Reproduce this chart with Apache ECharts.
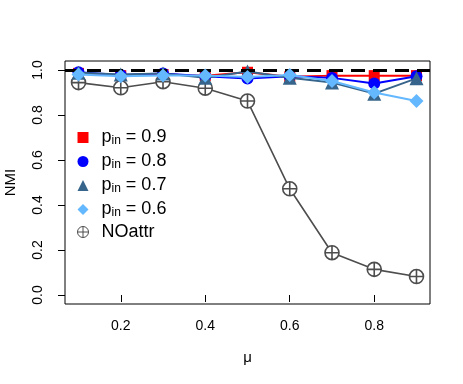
<!DOCTYPE html>
<html><head><meta charset="utf-8">
<script src="https://cdn.jsdelivr.net/npm/echarts@6/dist/echarts.min.js"></script>
<style>html,body{margin:0;padding:0;background:#fff}#c{width:463px;height:384px}</style>
</head><body><div id="c"></div>
<script>
const mu = [0.1,0.2,0.3,0.4,0.5,0.6,0.7,0.8,0.9];
const p09 = [0.985,0.975,0.980,0.975,0.990,0.970,0.975,0.975,0.975];
const p08 = [0.990,0.978,0.985,0.972,0.962,0.972,0.965,0.940,0.972];
const p07 = [0.988,0.980,0.985,0.966,0.993,0.966,0.944,0.895,0.963];
const p06 = [0.980,0.972,0.976,0.976,0.969,0.978,0.951,0.900,0.862];
const noattr = [0.944,0.921,0.948,0.919,0.862,0.472,0.188,0.114,0.082];
const xTicks = [0.2,0.4,0.6,0.8];
const yTicks = [0,0.2,0.4,0.6,0.8,1.0];
const legendLabels = {p09:'0.9',p08:'0.8',p07:'0.7',p06:'0.6'};

const FONT = 'Liberation Sans, Arial, sans-serif';
const plusCircle = 'path://M1,10 A9,9 0 1,1 19,10 A9,9 0 1,1 1,10 Z M10,1 L10,19 M1,10 L19,10';
const pair = a => a.map((v,i)=>[mu[i],v]);

const mk = (name, data, color, symbol, size, z, extra) => Object.assign({
  name, type:'line', data: pair(data), symbol, symbolSize: size, z,
  lineStyle:{color, width:2}, itemStyle:{color}, showSymbol:true, animation:false
}, extra||{});

const chart = echarts.init(document.getElementById('c'));
chart.setOption({
  animation:false,
  grid:{left:65, right:33, top:61, bottom:80, outerBoundsMode:'none', containLabel:false, show:true, borderColor:'#000', borderWidth:1, backgroundColor:'transparent'},
  xAxis:{type:'value', min:0.068, max:0.932,
    name:'μ', nameLocation:'middle', nameGap:46, nameTextStyle:{fontFamily:FONT, fontSize:15, color:'#000'},
    axisLine:{show:false}, splitLine:{show:false},
    axisTick:{show:true, inside:false, length:7, customValues:xTicks, lineStyle:{color:'#000'}},
    axisLabel:{customValues:xTicks, margin:15, fontFamily:FONT, fontSize:14, color:'#000', formatter:v=>v.toFixed(1)}},
  yAxis:{type:'value', min:-0.04, max:1.04,
    name:'NMI', nameLocation:'middle', nameGap:47, nameRotate:90, nameTextStyle:{fontFamily:FONT, fontSize:15, color:'#000'},
    axisLine:{show:false}, splitLine:{show:false},
    axisTick:{show:true, inside:false, length:7, customValues:yTicks, lineStyle:{color:'#000'}},
    axisLabel:{customValues:yTicks, rotate:90, margin:20, fontFamily:FONT, fontSize:14, color:'#000', formatter:v=>v.toFixed(1)}},
  legend:{orient:'vertical', left:77, top:127, padding:0, itemWidth:11, itemHeight:11, itemGap:4,
    data:[{name:'p09',icon:'rect'},{name:'p08',icon:'circle'},{name:'p07',icon:'triangle'},{name:'p06',icon:'diamond'},{name:'NOattr',icon:plusCircle, itemStyle:{borderWidth:1}}],
    formatter: n => n==='NOattr' ? '{sp|}{m|NOattr}' : '{sp|}{m|p}{s|in}{m| = '+legendLabels[n]+'}',
    textStyle:{fontFamily:FONT, fontSize:18, color:'#000',
      rich:{sp:{width:8}, m:{fontFamily:FONT,fontSize:18,color:'#000',lineHeight:19}, s:{fontFamily:FONT,fontSize:12,color:'#000',verticalAlign:'bottom',lineHeight:12,padding:[8,0,0,0]}}}},
  series:[
    mk('p09', p09, '#FF0000','rect',11,2,{markLine:{silent:true, symbol:'none', label:{show:false}, animation:false,
        lineStyle:{color:'#000', type:[14,8], width:3}, data:[{yAxis:1}]}}),
    mk('p08', p08, '#0000FF','circle',12,3),
    mk('p07', p07, '#36648B','triangle',14,4),
    mk('p06', p06, '#63B8FF','diamond',14,5),
    mk('NOattr', noattr, '#4D4D4D', plusCircle, 14, 1, {itemStyle:{color:'#fff', borderColor:'#4D4D4D', borderWidth:1.6}, lineStyle:{color:'#4D4D4D', width:1.6}})
  ]
});
</script></body></html>
